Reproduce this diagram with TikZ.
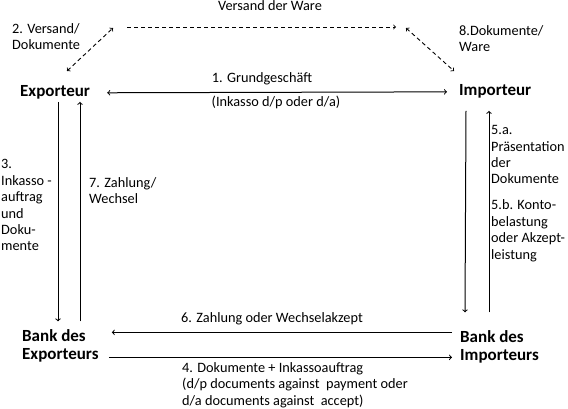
\documentclass[tikz,border=0pt]{standalone}
\usepackage{fontspec}
\setmainfont{Carlito}
\usetikzlibrary{calc,arrows,positioning}
\tikzset{
myParty/.style={
	font=\fontsize{17}{17.5}\selectfont\bfseries,
	inner sep=0pt, align=left, text=black
}
, myText/.style={
	font=\fontsize{14.3}{16.4}\selectfont,
	inner sep=0pt, align=left, text=black
}
% link
, myFlow/.style={->,line width=1pt}
, myFlowBoth/.style={<->,line width=1pt}
, myShip/.style={->,line width=0.9pt,dash pattern=on 4pt off 3pt}
, myShipBoth/.style={<->,line width=0.9pt,dash pattern=on 4pt off 3pt}
}

\begin{document}
\begin{tikzpicture}[x=1pt,y=-1pt]
	\useasboundingbox (0,0) rectangle (568,409);
	% parties
	\node[myParty,anchor=base west] (Exp) at (20,97) {Exporteur};
	\node[myParty,anchor=base west] (Imp) at (459,96) {Importeur};
	\node[myParty,anchor=base west] (BankExp) at (22,359) {Bank des\\Exporteurs};
	\node[myParty,anchor=base west] (BankImp) at (460,360) {Bank des\\Importeurs};

	% shipping ends
	\coordinate (WareA) at (127,27);
	\coordinate (WareB) at (396,27);
	\coordinate (ShipExpA) at (67,71);
	\coordinate (ShipExpB) at (113,28);
	\coordinate (ShipImpA) at (406,28);
	\coordinate (ShipImpB) at (454,71);

	% labels (base = last line)
	\node[myText,anchor=base] (LabWare) at (270,11) {Versand der Ware};
	\node[myText,anchor=base west] (Lab2) at (12,50) {2. Versand/\\Dokumente};
	\node[myText,anchor=base west] (Lab8) at (459,52) {8.Dokumente/\\Ware};
	\node[myText,anchor=base] (Lab1) at (262,83) {1. Grundgeschäft};
	\node[myText,anchor=base] (Lab1b) at (276,107) {(Inkasso d/p oder d/a)};
	\node[myText,anchor=base west] (Lab3) at (1,251) {3.\\Inkasso -\\auftrag\\und\\Doku-\\mente};
	\node[myText,anchor=base west] (Lab7) at (89,204) {7. Zahlung/\\Wechsel};
	\node[myText,anchor=base west] (Lab5a) at (491,184) {5.a.\\Präsentation\\der\\Dokumente};
	\node[myText,anchor=base west] (Lab5b) at (491,259) {5.b. Konto-\\belastung\\oder Akzept-\\leistung};
	\node[myText,anchor=base] (Lab6) at (272,322) {6. Zahlung oder Wechselakzept};
	\node[myText,anchor=base west] (Lab4) at (182,405) {4. Dokumente + Inkassoauftrag\\(d/p documents against~ payment oder\\d/a documents against~ accept)};

	% links
	\draw [myShip] (WareA) to (WareB);
	\draw [myShipBoth] (ShipExpA) to (ShipExpB);
	\draw [myShipBoth] (ShipImpA) to (ShipImpB);
	\draw [myFlowBoth,shorten <=17pt,shorten >=12pt] (Exp.east) to (Imp.west);

	\draw [myFlow] ([xshift=38pt,yshift=-2pt]Exp.south west) to ([xshift=36pt,yshift=8pt]BankExp.north west);
	\draw [myFlow] ([xshift=58pt,yshift=8pt]BankExp.north west) to ([xshift=60pt,yshift=-2pt]Exp.south west);

	\draw [myFlow] ([xshift=7pt,yshift=-12pt]Imp.south west) to ([xshift=5pt,yshift=18pt]BankImp.north west);
	\draw [myFlow] ([xshift=29pt,yshift=18pt]BankImp.north west) to ([xshift=30pt,yshift=-12pt]Imp.south west);

	\draw [myFlow] ([xshift=-8pt,yshift=-2pt]BankImp.north west) to ([xshift=13pt,yshift=-2pt]BankImp.north west -| BankExp.east);
	\draw [myFlow] ([xshift=10pt,yshift=-28pt]BankExp.north east) to ([xshift=-8pt,yshift=-28pt]BankExp.north east -| BankImp.west);
\end{tikzpicture}
\end{document}
